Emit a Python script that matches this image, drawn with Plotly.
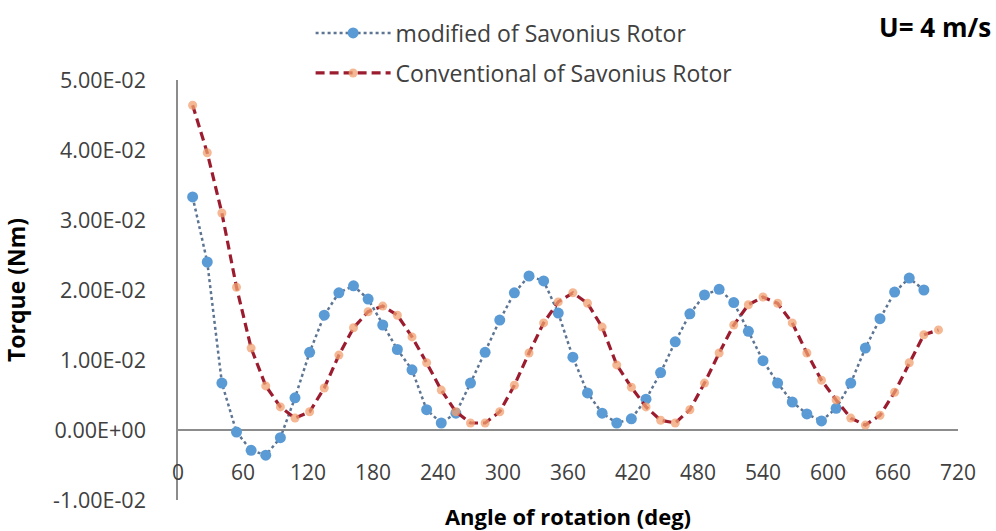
import plotly.graph_objects as go

# ---- data ----
angles_mod = [13.5, 27, 40.5, 54, 67.5, 81, 94.5, 108, 121.5, 135,
              148.5, 162, 175.5, 189, 202.5, 216, 229.5, 243, 256.5, 270,
              283.5, 297, 310.5, 324, 337.5, 351, 364.5, 378, 391.5, 405,
              418.5, 432, 445.5, 459, 472.5, 486, 499.5, 513, 526.5, 540,
              553.5, 567, 580.5, 594, 607.5, 621, 634.5, 648, 661.5, 675,
              688.5]
torque_mod = [0.0333, 0.0240, 0.0067, -0.0003, -0.0029, -0.0036, -0.0011, 0.0046, 0.0111, 0.0164,
              0.0196, 0.0206, 0.0187, 0.0150, 0.0115, 0.0086, 0.0029, 0.0010, 0.0024, 0.0067,
              0.0111, 0.0157, 0.0196, 0.0220, 0.0213, 0.0167, 0.0104, 0.0053, 0.0024, 0.0010,
              0.0016, 0.0044, 0.0082, 0.0126, 0.0166, 0.0193, 0.0201, 0.0182, 0.0141, 0.0099,
              0.0067, 0.0040, 0.0023, 0.0013, 0.0031, 0.0067, 0.0117, 0.0159, 0.0197, 0.0217,
              0.0200]

angles_conv = [13.5, 27, 40.5, 54, 67.5, 81, 94.5, 108, 121.5, 135,
               148.5, 162, 175.5, 189, 202.5, 216, 229.5, 243, 256.5, 270,
               283.5, 297, 310.5, 324, 337.5, 351, 364.5, 378, 391.5, 405,
               418.5, 432, 445.5, 459, 472.5, 486, 499.5, 513, 526.5, 540,
               553.5, 567, 580.5, 594, 607.5, 621, 634.5, 648, 661.5, 675,
               688.5, 702]
torque_conv = [0.0464, 0.0396, 0.0310, 0.0204, 0.0117, 0.0063, 0.0033, 0.0017, 0.0026, 0.0060,
               0.0107, 0.0146, 0.0169, 0.0177, 0.0164, 0.0133, 0.0096, 0.0057, 0.0026, 0.0010,
               0.0010, 0.0026, 0.0064, 0.0110, 0.0153, 0.0183, 0.0196, 0.0181, 0.0147, 0.0093,
               0.0061, 0.0033, 0.0014, 0.0010, 0.0029, 0.0067, 0.0110, 0.0150, 0.0179, 0.0190,
               0.0181, 0.0153, 0.0110, 0.0071, 0.0043, 0.0017, 0.0007, 0.0021, 0.0054, 0.0096,
               0.0136, 0.0143]

x_ticks = [0, 60, 120, 180, 240, 300, 360, 420, 480, 540, 600, 660, 720]
y_ticks = [-0.01, 0.0, 0.01, 0.02, 0.03, 0.04, 0.05]
y_tick_text = ["-1.00E-02", "0.00E+00", "1.00E-02", "2.00E-02", "3.00E-02", "4.00E-02", "5.00E-02"]

name_mod = "modified of Savonius Rotor"
name_conv = "Conventional of Savonius Rotor"
label_speed = "U= 4 m/s"

FONT = "Open Sans"
TXT = "#404040"

fig = go.Figure()
fig.add_trace(go.Scatter(
    x=angles_mod, y=torque_mod, name=name_mod, mode="lines+markers",
    line=dict(color="#5d7593", width=2.5, dash="dot"),
    marker=dict(color="#5B9BD5", size=11, line=dict(width=0)),
    legend="legend", showlegend=True,
))
fig.add_trace(go.Scatter(
    x=angles_conv, y=torque_conv, name=name_conv, mode="lines+markers",
    line=dict(color="#9b1c2e", width=3.2, dash="9px,5px"),
    marker=dict(color="#F2A070", size=9, opacity=0.75, line=dict(width=0)),
    legend="legend2", showlegend=True,
))

fig.update_layout(
    width=996, height=531,
    margin=dict(l=178, r=38, t=80, b=31, autoexpand=False),
    paper_bgcolor="white", plot_bgcolor="white",
    showlegend=True,
    font=dict(family=FONT, color=TXT, size=21),
    legend=dict(x=0.17, y=(500 - 33) / 420, xanchor="left", yanchor="middle",
                bgcolor="rgba(0,0,0,0)", itemwidth=75, visible=True,
                font=dict(family=FONT, size=23, color=TXT)),
    legend2=dict(x=0.17, y=(500 - 73) / 420, xanchor="left", yanchor="middle",
                 bgcolor="rgba(0,0,0,0)", itemwidth=75, visible=True,
                 font=dict(family=FONT, size=23, color=TXT)),
    annotations=[dict(text="<b>" + label_speed + "</b>",
                      x=(993 - 178) / 780, y=(500 - 27) / 420,
                      xref="paper", yref="paper", showarrow=False,
                      xanchor="right", yanchor="middle",
                      font=dict(family=FONT, size=26, color="#000000"))],
)

fig.update_xaxes(
    range=[0, 720], tickvals=x_ticks, ticks="", showgrid=False,
    showline=False, zeroline=False, ticklabelstandoff=-42, automargin=False,
    tickfont=dict(family=FONT, size=21, color=TXT),
    title=dict(text="<b>Angle of rotation (deg)</b>", standoff=26,
               font=dict(family=FONT, size=22, color="#000000")),
)
fig.update_yaxes(
    range=[-0.01, 0.05], tickvals=y_ticks, ticktext=y_tick_text, ticks="",
    showgrid=False, showline=True, linecolor="#8c8c8c", linewidth=1.5,
    zeroline=True, zerolinecolor="#8c8c8c", zerolinewidth=1.5,
    ticklabelstandoff=26, automargin=False,
    tickfont=dict(family=FONT, size=21.5, color=TXT),
    title=dict(text="<b>Torque (Nm)</b>", standoff=24,
               font=dict(family=FONT, size=23, color="#000000")),
)

fig.write_html("out.html")
